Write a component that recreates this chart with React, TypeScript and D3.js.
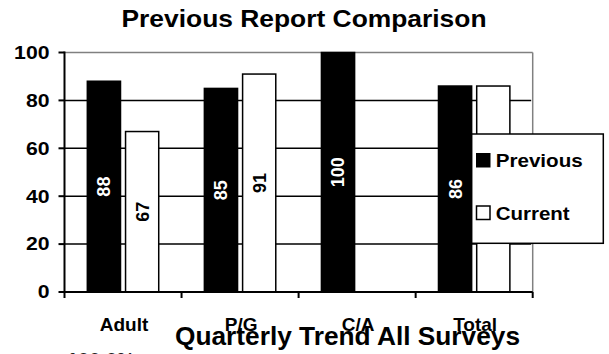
import React from "react";
import * as d3 from "d3";

// data
const categories = ["Adult", "P/G", "C/A", "Total"];
const series = ["Previous", "Current"];
const previousValues = [88, 85, 100, 86];
const currentValues: (number | null)[] = [67, 91, null, 86];
const yTicks = [0, 20, 40, 60, 80, 100];

const W = 609;
const H = 354;
const FONT = "'Liberation Sans', Arial, Helvetica, sans-serif";

const App: React.FC = () => {
  const left = 64.5;
  const right = 532.7;
  const top = 52.5;
  const bottom = 292;

  const y = d3.scaleLinear().domain([0, 100]).range([bottom, top]);
  const x0 = d3.scaleBand<string>().domain(categories).range([left, right]).padding(0);
  const bw = x0.bandwidth();
  const x1 = d3
    .scaleBand<string>()
    .domain(series)
    .range([bw * 0.195, bw * 0.805])
    .paddingInner(0.132)
    .paddingOuter(0);

  const bars: { cat: string; s: string; v: number }[] = [];
  categories.forEach((c, i) => {
    bars.push({ cat: c, s: "Previous", v: previousValues[i] });
    const cv = currentValues[i];
    if (cv !== null) bars.push({ cat: c, s: "Current", v: cv });
  });

  // tick marks at category boundaries
  const xTickPos = categories.map((c) => x0(c)!).concat([right]);

  return (
    <svg
      width={W}
      height={H}
      style={{ position: "absolute", left: 0, top: 0, background: "#fff" }}
      fontFamily={FONT}
      fontWeight="bold"
    >
      <rect x={0} y={0} width={W} height={H} fill="#fff" />

      {/* title */}
      <text x={304} y={26.5} textAnchor="middle" fontSize={24} textLength={365} lengthAdjust="spacingAndGlyphs">
        Previous Report Comparison
      </text>

      {/* gridlines */}
      {yTicks
        .filter((t) => t > 0 && t < 100)
        .map((t) => (
          <line key={t} x1={left} x2={right - 1.5} y1={y(t)} y2={y(t)} stroke="#000" strokeWidth={1.5} />
        ))}
      <line x1={left} x2={right} y1={y(100)} y2={y(100)} stroke="#808080" strokeWidth={1.5} />
      <line x1={right} x2={right} y1={y(100)} y2={bottom} stroke="#808080" strokeWidth={1.5} />

      {/* bars */}
      {bars.map((b) => {
        const bx = x0(b.cat)! + x1(b.s)!;
        const by = y(b.v);
        const bh = bottom - by;
        const dark = b.s === "Previous";
        return (
          <g key={b.cat + b.s}>
            <rect
              x={bx}
              y={by}
              width={x1.bandwidth()}
              height={bh}
              fill={dark ? "#000" : "#fff"}
              stroke="#000"
              strokeWidth={1.5}
            />
            <text
              transform={`translate(${bx + x1.bandwidth() / 2},${by + bh / 2}) rotate(-90)`}
              textAnchor="middle"
              dy="0.36em"
              fontSize={18}
              fill={dark ? "#fff" : "#000"}
            >
              {b.v}
            </text>
          </g>
        );
      })}

      {/* y axis */}
      <line x1={left} x2={left} y1={top - 1} y2={bottom} stroke="#000" strokeWidth={2} />
      {yTicks.map((t) => (
        <g key={t}>
          <line x1={left - 6} x2={left} y1={y(t)} y2={y(t)} stroke="#000" strokeWidth={2} />
          <text
            x={49.5}
            y={y(t)}
            dy="0.36em"
            textAnchor="end"
            fontSize={17.5}
            textLength={String(t).length * 11.8}
            lengthAdjust="spacingAndGlyphs"
          >
            {t}
          </text>
        </g>
      ))}

      {/* x axis */}
      <line x1={left} x2={right} y1={bottom} y2={bottom} stroke="#000" strokeWidth={2} />
      {xTickPos.map((p, i) => (
        <line key={i} x1={p} x2={p} y1={bottom} y2={bottom + 6} stroke="#000" strokeWidth={2} />
      ))}
      {categories.map((c) => (
        <text key={c} x={x0(c)! + bw / 2 + 1} y={331} textAnchor="middle" fontSize={19}>
          {c}
        </text>
      ))}

      {/* legend */}
      <rect x={471.7} y={134} width={131.6} height={109.3} fill="#fff" stroke="#000" strokeWidth={1.5} />
      <rect x={476.5} y={153.5} width={13.5} height={13.5} fill="#000" stroke="#000" strokeWidth={1} />
      <text x={495.7} y={167.3} fontSize={19} textLength={87} lengthAdjust="spacingAndGlyphs">
        {series[0]}
      </text>
      <rect x={476.5} y={206} width={13.5} height={13.5} fill="#fff" stroke="#000" strokeWidth={1.5} />
      <text x={495.7} y={219.5} fontSize={19} textLength={74} lengthAdjust="spacingAndGlyphs">
        {series[1]}
      </text>

      {/* next chart's title, overlapping at the bottom */}
      <text x={175} y={344.5} fontSize={26.5} textLength={345} lengthAdjust="spacingAndGlyphs">
        Quarterly Trend All Surveys
      </text>
      <text x={67} y={367} fontSize={20} fill="#222">
        100.0%
      </text>
    </svg>
  );
};

export default App;
